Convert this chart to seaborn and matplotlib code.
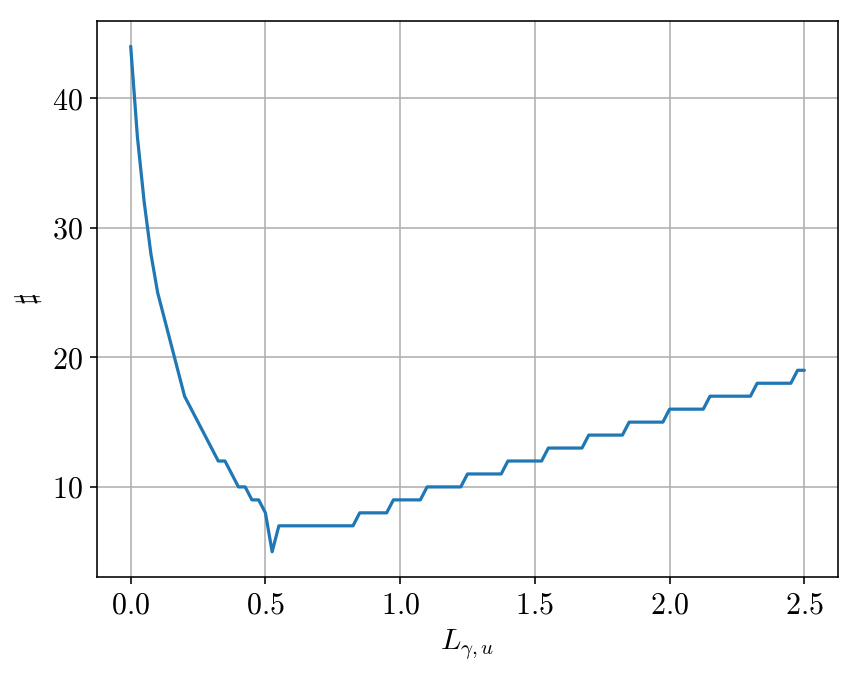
import numpy as np
import pandas as pd
import matplotlib
matplotlib.use("Agg")
import matplotlib.pyplot as plt
import seaborn as sns

# Data
x_step = 0.025
L_values = np.round(np.arange(0, 101) * x_step, 4)
counts = (
    [44, 37, 32, 28, 25, 23, 21, 19, 17, 16, 15, 14, 13, 12, 12, 11, 10, 10, 9, 9, 8, 5]
    + [7] * 12
    + [8] * 5
    + [9] * 5
    + [10] * 6
    + [11] * 6
    + [12] * 6
    + [13] * 6
    + [14] * 6
    + [15] * 6
    + [16] * 6
    + [17] * 7
    + [18] * 6
    + [19] * 2
)
xtick_vals = [0.0, 0.5, 1.0, 1.5, 2.0, 2.5]
xtick_labels = [r"$0.0$", r"$0.5$", r"$1.0$", r"$1.5$", r"$2.0$", r"$2.5$"]
ytick_vals = [10, 20, 30, 40]
ytick_labels = [r"$10$", r"$20$", r"$30$", r"$40$"]

df = pd.DataFrame({"L": L_values, "n": counts})

sns.set_style("ticks")
plt.rcParams["mathtext.fontset"] = "cm"
plt.rcParams["font.family"] = ["DejaVu Serif"]
plt.rcParams["text.color"] = "black"
plt.rcParams["axes.labelcolor"] = "black"
plt.rcParams["xtick.color"] = "black"
plt.rcParams["ytick.color"] = "black"

fig = plt.figure(figsize=(863 / 144, 673 / 144), dpi=144)
ax = fig.add_axes([97 / 863, 1 - 577 / 673, (838 - 97) / 863, (577 - 21) / 673])

sns.lineplot(data=df, x="L", y="n", ax=ax, color="#1f77b4", linewidth=1.6)

ax.grid(True, color="#b0b0b0", linewidth=0.8)
ax.set_axisbelow(True)
ax.set_xticks(xtick_vals)
ax.set_xticklabels(xtick_labels)
ax.set_yticks(ytick_vals)
ax.set_yticklabels(ytick_labels)
ax.tick_params(axis="both", labelsize=15, direction="out", length=3.5, width=0.8,
               color="black", labelcolor="black")
for s in ax.spines.values():
    s.set_visible(True)
    s.set_color("black")
    s.set_linewidth(0.8)
ax.set_xlabel(r"$L_{\gamma,u}$", fontsize=15, color="black")
ax.set_ylabel(r"$\sharp$", fontsize=15, color="black")

fig.savefig("out.png", dpi=144)
